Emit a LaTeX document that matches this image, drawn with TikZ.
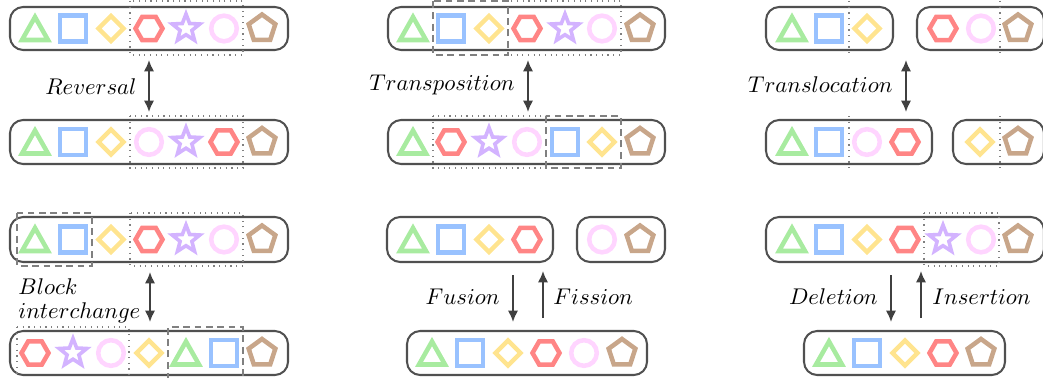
\documentclass[tikz,border=0pt]{standalone}
\usetikzlibrary{arrows.meta}
\definecolor{cgreen}{HTML}{A8EBA0}
\definecolor{cblue}{HTML}{99C2FF}
\definecolor{cyellow}{HTML}{FFE48F}
\definecolor{cred}{HTML}{FF8585}
\definecolor{cpurple}{HTML}{D3B3FF}
\definecolor{cpink}{HTML}{FFD5FF}
\definecolor{cbrown}{HTML}{C8A68A}
\definecolor{cline}{HTML}{505050}
\definecolor{carrow}{HTML}{404040}
\tikzset{
  shp/.style={line width=2pt, line join=miter},
  chrom/.style={draw=cline, line width=0.9pt, rounded corners=5.8pt},
  dotbox/.style={draw=gray, line width=0.5pt, dotted},
  dashbox/.style={draw=gray, line width=0.6pt, dash pattern=on 3pt off 2pt},
  arr/.style={draw=carrow, line width=0.75pt, -{Latex[length=5pt,width=4.5pt]}},
  darr/.style={draw=carrow, line width=0.75pt, {Latex[length=5pt,width=4.5pt]}-{Latex[length=5pt,width=4.5pt]}},
  lbl/.style={font=\fontsize{10}{12}\selectfont, inner sep=0pt},
  pics/tri/.style={code={\draw[shp,cgreen] (0,-11.5) -- (13,11.5) -- (-13,11.5) -- cycle;}},
  pics/sq/.style={code={\draw[shp,cblue] (-13,-13) rectangle (13,13);}},
  pics/dia/.style={code={\draw[shp,cyellow] (0,-12.5) -- (12.5,0) -- (0,12.5) -- (-12.5,0) -- cycle;}},
  pics/hex/.style={code={\draw[shp,cred] (0:13.5) -- (60:13.5) -- (120:13.5) -- (180:13.5) -- (240:13.5) -- (300:13.5) -- cycle;}},
  pics/star/.style={code={\draw[shp,line width=1.6pt,cpurple] (-90:14.5) -- (-54:6.2) -- (-18:14.5) -- (18:6.2) -- (54:14.5) -- (90:6.2) -- (126:14.5) -- (162:6.2) -- (198:14.5) -- (234:6.2) -- cycle;}},
  pics/circ/.style={code={\draw[shp,cpink] (0,0) circle[radius=12.8];}},
  pics/pent/.style={code={\draw[shp,cbrown] (-90:14) -- (-18:14) -- (54:14) -- (126:14) -- (198:14) -- cycle;}},
}
\begin{document}
\begin{tikzpicture}[x=0.44pt,y=-0.44pt]
\useasboundingbox (0,0) rectangle (1043,378);

% ---------- Reversal ----------
\draw[chrom] (10,7) rectangle (288,50);
\foreach \s/\x in {tri/35,sq/73,dia/111,hex/149,star/186,circ/224,pent/262}
  \pic at (\x,28.5) {\s};
\draw[dotbox] (130,1) rectangle (243,55);
\draw[chrom] (10,120) rectangle (288,164);
\foreach \s/\x in {tri/35,sq/73,dia/111,circ/149,star/186,hex/224,pent/262}
  \pic at (\x,142) {\s};
\draw[dotbox] (130,116) rectangle (243,168);
\coordinate (rv1) at (149,60);
\coordinate (rv2) at (149,112);
\draw[darr] (rv1) -- (rv2);
\node[lbl, anchor=east] (rvl) at (137,87) {$Reversal$};

% ---------- Block interchange ----------
\draw[chrom] (10,217) rectangle (288,262);
\foreach \s/\x in {tri/35,sq/73,dia/111,hex/149,star/186,circ/224,pent/262}
  \pic at (\x,239.5) {\s};
\draw[dashbox] (17,213) rectangle (92,266);
\draw[dotbox] (130,213) rectangle (243,266);
\draw[chrom] (10,331) rectangle (288,375);
\foreach \s/\x in {hex/35,star/73,circ/111,dia/149,tri/186,sq/224,pent/262}
  \pic at (\x,353) {\s};
\draw[dotbox] (17,327) -- (129,327) -- (129,380) (17,327) -- (17,380);
\draw[dashbox] (168,380) -- (168,327) -- (243,327) -- (243,380);
\coordinate (bi1) at (150,272);
\coordinate (bi2) at (150,322);
\draw[darr] (bi1) -- (bi2);
\node[lbl, anchor=base west] (bil1) at (18,294) {$Block$};
\node[lbl, anchor=base west] (bil2) at (18,318) {$interchange$};

% ---------- Transposition ----------
\draw[chrom] (388,7) rectangle (665,50);
\foreach \s/\x in {tri/413,sq/451,dia/489,hex/527,star/565,circ/602,pent/640}
  \pic at (\x,28.5) {\s};
\draw[dashbox] (433,1) rectangle (508,55);
\draw[dotbox] (508,1) rectangle (621,55);
\draw[chrom] (388,120) rectangle (665,164);
\foreach \s/\x in {tri/413,hex/451,star/489,circ/527,sq/565,dia/602,pent/640}
  \pic at (\x,142) {\s};
\draw[dotbox] (433,116) rectangle (546,168);
\draw[dashbox] (546,116) rectangle (621,168);
\coordinate (tp1) at (528,60);
\coordinate (tp2) at (528,112);
\draw[darr] (tp1) -- (tp2);
\node[lbl, anchor=east] (tpl) at (515,85) {$Transposition$};

% ---------- Fusion / Fission ----------
\draw[chrom] (387,217) rectangle (553,262);
\foreach \s/\x in {tri/413,sq/451,dia/489,hex/527}
  \pic at (\x,239.5) {\s};
\draw[chrom] (577,217) rectangle (665,262);
\foreach \s/\x in {circ/602,pent/640}
  \pic at (\x,239.5) {\s};
\draw[chrom] (407,331) rectangle (647,375);
\foreach \s/\x in {tri/432,sq/470,dia/508,hex/546,circ/584,pent/622}
  \pic at (\x,353) {\s};
\coordinate (fu1) at (513,275);
\coordinate (fu2) at (513,322);
\coordinate (fi1) at (543,318);
\coordinate (fi2) at (543,271);
\draw[arr] (fu1) -- (fu2);
\draw[arr] (fi1) -- (fi2);
\node[lbl, anchor=east] (ful) at (500,297) {$Fusion$};
\node[lbl, anchor=west] (fil) at (553,297) {$Fission$};

% ---------- Translocation ----------
\draw[chrom] (766,7) rectangle (893,50);
\foreach \s/\x in {tri/792,sq/829,dia/867}
  \pic at (\x,28.5) {\s};
\draw[dotbox] (849,1) -- (849,55);
\draw[chrom] (917,7) rectangle (1044,50);
\foreach \s/\x in {hex/943,circ/981,pent/1018}
  \pic at (\x,28.5) {\s};
\draw[dotbox] (1000,1) -- (1000,55);
\draw[chrom] (766,120) rectangle (932,164);
\foreach \s/\x in {tri/792,sq/829,circ/867,hex/905}
  \pic at (\x,142) {\s};
\draw[dotbox] (849,116) -- (849,168);
\draw[chrom] (953,120) rectangle (1044,164);
\foreach \s/\x in {dia/980,pent/1018}
  \pic at (\x,142) {\s};
\draw[dotbox] (1000,116) -- (1000,168);
\coordinate (tl1) at (906,60);
\coordinate (tl2) at (906,112);
\draw[darr] (tl1) -- (tl2);
\node[lbl, anchor=east] (tll) at (893,85) {$Translocation$};

% ---------- Deletion / Insertion ----------
\draw[chrom] (766,217) rectangle (1044,262);
\foreach \s/\x in {tri/792,sq/829,dia/867,hex/905,star/943,circ/981,pent/1018}
  \pic at (\x,239.5) {\s};
\draw[dotbox] (924,213) rectangle (999,266);
\draw[chrom] (804,331) rectangle (1005,375);
\foreach \s/\x in {tri/829,sq/867,dia/905,hex/943,pent/981}
  \pic at (\x,353) {\s};
\coordinate (de1) at (891,275);
\coordinate (de2) at (891,322);
\coordinate (in1) at (921,318);
\coordinate (in2) at (921,271);
\draw[arr] (de1) -- (de2);
\draw[arr] (in1) -- (in2);
\node[lbl, anchor=east] (del) at (878,297) {$Deletion$};
\node[lbl, anchor=west] (inl) at (932,297) {$Insertion$};
\end{tikzpicture}
\end{document}
